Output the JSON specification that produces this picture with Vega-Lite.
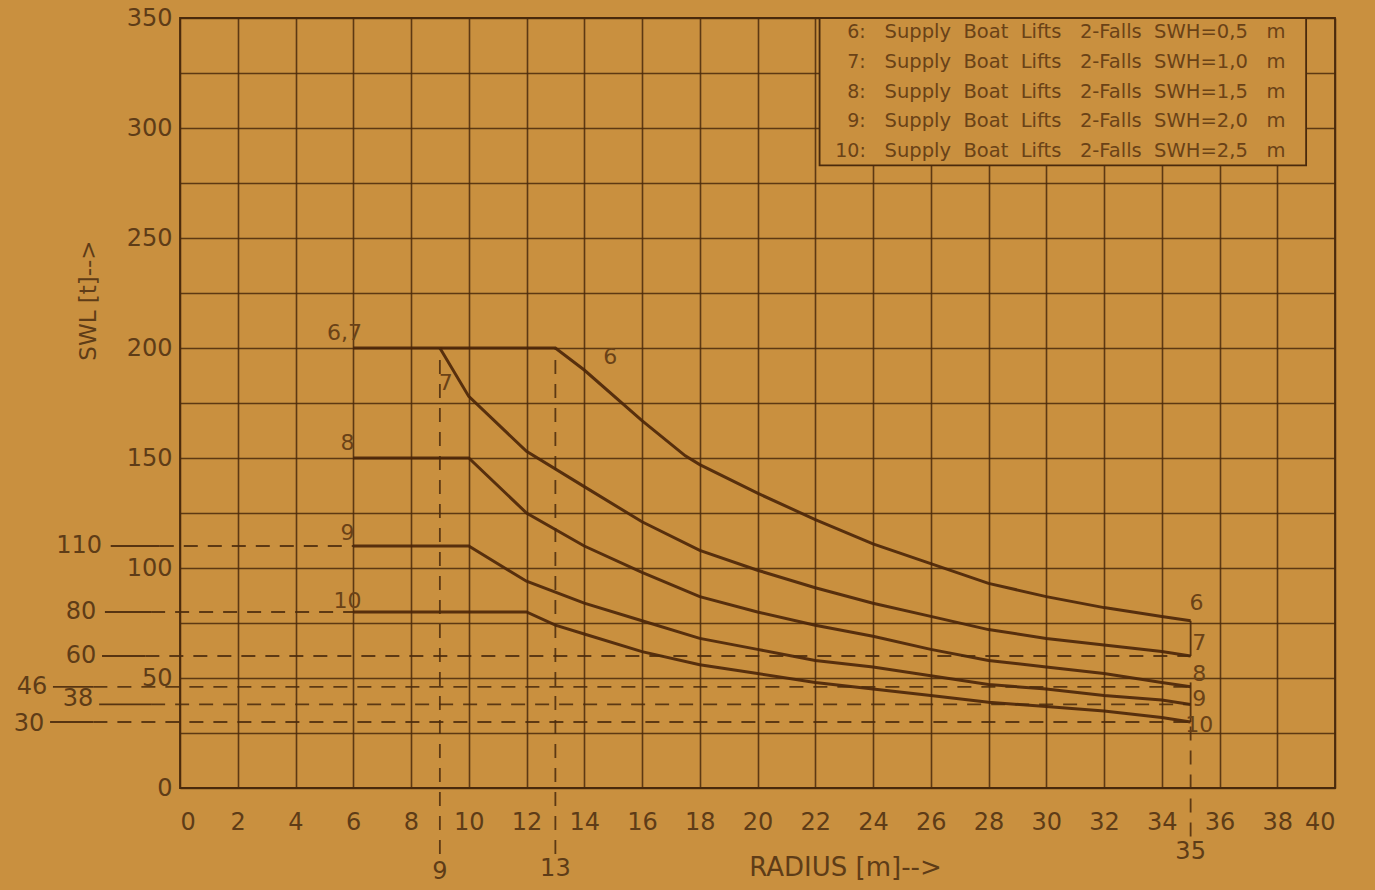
{
  "$schema": "https://vega.github.io/schema/vega-lite/v6.json",
  "width": 1155,
  "height": 770,
  "autosize": {"type": "none"},
  "padding": {"left": 180, "top": 18, "right": 40, "bottom": 102},
  "background": "#c9903f",
  "config": {
    "view": {"stroke": "#4a2a0c", "strokeWidth": 1.8},
    "font": "DejaVu Sans",
    "axis": {
      "domain": false,
      "ticks": false,
      "grid": true,
      "gridColor": "#4a2a0c",
      "gridWidth": 1.6,
      "gridOpacity": 0.85,
      "labelColor": "#5e3c17",
      "labelFontSize": 24,
      "labelFont": "DejaVu Sans",
      "titleColor": "#5e3c17",
      "titleFont": "DejaVu Sans",
      "titleFontWeight": "normal"
    }
  },
  "datasets": {
    "curves": [
      {"c": "6", "r": 6, "swl": 200}, {"c": "6", "r": 13, "swl": 200}, {"c": "6", "r": 14, "swl": 190}, {"c": "6", "r": 16, "swl": 167}, {"c": "6", "r": 17.5, "swl": 151}, {"c": "6", "r": 18, "swl": 147}, {"c": "6", "r": 20, "swl": 134}, {"c": "6", "r": 22, "swl": 122}, {"c": "6", "r": 24, "swl": 111}, {"c": "6", "r": 26, "swl": 102}, {"c": "6", "r": 28, "swl": 93}, {"c": "6", "r": 30, "swl": 87}, {"c": "6", "r": 32, "swl": 82}, {"c": "6", "r": 34, "swl": 78}, {"c": "6", "r": 35, "swl": 76},
      {"c": "7", "r": 9, "swl": 200}, {"c": "7", "r": 10, "swl": 178}, {"c": "7", "r": 12, "swl": 153}, {"c": "7", "r": 14, "swl": 137}, {"c": "7", "r": 16, "swl": 121}, {"c": "7", "r": 18, "swl": 108}, {"c": "7", "r": 20, "swl": 99}, {"c": "7", "r": 22, "swl": 91}, {"c": "7", "r": 24, "swl": 84}, {"c": "7", "r": 26, "swl": 78}, {"c": "7", "r": 28, "swl": 72}, {"c": "7", "r": 30, "swl": 68}, {"c": "7", "r": 32, "swl": 65}, {"c": "7", "r": 34, "swl": 62}, {"c": "7", "r": 35, "swl": 60},
      {"c": "8", "r": 6, "swl": 150}, {"c": "8", "r": 10, "swl": 150}, {"c": "8", "r": 12, "swl": 125}, {"c": "8", "r": 14, "swl": 110}, {"c": "8", "r": 16, "swl": 98}, {"c": "8", "r": 18, "swl": 87}, {"c": "8", "r": 20, "swl": 80}, {"c": "8", "r": 22, "swl": 74}, {"c": "8", "r": 24, "swl": 69}, {"c": "8", "r": 26, "swl": 63}, {"c": "8", "r": 28, "swl": 58}, {"c": "8", "r": 30, "swl": 55}, {"c": "8", "r": 32, "swl": 52}, {"c": "8", "r": 34, "swl": 48}, {"c": "8", "r": 35, "swl": 46},
      {"c": "9", "r": 6, "swl": 110}, {"c": "9", "r": 10, "swl": 110}, {"c": "9", "r": 12, "swl": 94}, {"c": "9", "r": 14, "swl": 84}, {"c": "9", "r": 16, "swl": 76}, {"c": "9", "r": 18, "swl": 68}, {"c": "9", "r": 20, "swl": 63}, {"c": "9", "r": 22, "swl": 58}, {"c": "9", "r": 24, "swl": 55}, {"c": "9", "r": 26, "swl": 51}, {"c": "9", "r": 28, "swl": 47}, {"c": "9", "r": 30, "swl": 45}, {"c": "9", "r": 32, "swl": 42}, {"c": "9", "r": 34, "swl": 40}, {"c": "9", "r": 35, "swl": 38},
      {"c": "10", "r": 6, "swl": 80}, {"c": "10", "r": 12, "swl": 80}, {"c": "10", "r": 13, "swl": 74}, {"c": "10", "r": 14, "swl": 70}, {"c": "10", "r": 16, "swl": 62}, {"c": "10", "r": 18, "swl": 56}, {"c": "10", "r": 20, "swl": 52}, {"c": "10", "r": 22, "swl": 48}, {"c": "10", "r": 24, "swl": 45}, {"c": "10", "r": 26, "swl": 42}, {"c": "10", "r": 28, "swl": 39}, {"c": "10", "r": 30, "swl": 37}, {"c": "10", "r": 32, "swl": 35}, {"c": "10", "r": 34, "swl": 32}, {"c": "10", "r": 35, "swl": 30}
    ],
    "dashed": [
      {"x": -0.7, "x2": 6, "y": 110, "y2": 110},
      {"x": -1.0, "x2": 6, "y": 80, "y2": 80},
      {"x": -1.2, "x2": 35, "y": 60, "y2": 60},
      {"x": -3.0, "x2": 35, "y": 46, "y2": 46},
      {"x": -1.0, "x2": 35, "y": 38, "y2": 38},
      {"x": -3.0, "x2": 35, "y": 30, "y2": 30},
      {"x": 9, "x2": 9, "y": -30, "y2": 200},
      {"x": 13, "x2": 13, "y": -30, "y2": 200},
      {"x": 35, "x2": 35, "y": -22, "y2": 30}
    ],
    "solid": [
      {"x": -2.4, "x2": -0.7, "y": 110, "y2": 110},
      {"x": -2.6, "x2": -1.0, "y": 80, "y2": 80},
      {"x": -2.7, "x2": -1.2, "y": 60, "y2": 60},
      {"x": -4.4, "x2": -3.0, "y": 46, "y2": 46},
      {"x": -2.8, "x2": -1.0, "y": 38, "y2": 38},
      {"x": -4.5, "x2": -3.0, "y": 30, "y2": 30},
      {"x": 35, "x2": 35, "y": 60, "y2": 76},
      {"x": 35, "x2": 35, "y": 30, "y2": 48}
    ],
    "sidelabels": [
      {"x": -2.7, "y": 110, "t": "110"},
      {"x": -2.9, "y": 80, "t": "80"},
      {"x": -2.9, "y": 60, "t": "60"},
      {"x": -4.6, "y": 46, "t": "46"},
      {"x": -3.0, "y": 40.5, "t": "38"},
      {"x": -4.7, "y": 29, "t": "30"}
    ],
    "bottomlabels": [
      {"x": 9, "y": -38, "t": "9"},
      {"x": 13, "y": -37, "t": "13"},
      {"x": 35, "y": -29, "t": "35"}
    ],
    "curvelabels": [
      {"x": 5.7, "y": 207, "t": "6,7", "a": "right"},
      {"x": 5.8, "y": 157, "t": "8", "a": "right"},
      {"x": 5.8, "y": 116, "t": "9", "a": "right"},
      {"x": 5.8, "y": 85, "t": "10", "a": "right"},
      {"x": 9.2, "y": 184, "t": "7", "a": "left"},
      {"x": 14.9, "y": 196, "t": "6", "a": "left"},
      {"x": 35.2, "y": 84, "t": "6", "a": "left"},
      {"x": 35.3, "y": 66, "t": "7", "a": "left"},
      {"x": 35.3, "y": 52, "t": "8", "a": "left"},
      {"x": 35.3, "y": 40.5, "t": "9", "a": "left"},
      {"x": 35.3, "y": 28.5, "t": "10", "a": "left"}
    ],
    "legendbox": [{"x": 22.15, "x2": 39.0, "y": 283, "y2": 350}],
    "legend": [
      {"n": "6:", "t": "Supply\u00a0\u00a0Boat\u00a0\u00a0Lifts\u00a0\u00a0\u00a02-Falls\u00a0\u00a0SWH=0,5\u00a0\u00a0\u00a0m", "y": 343.5},
      {"n": "7:", "t": "Supply\u00a0\u00a0Boat\u00a0\u00a0Lifts\u00a0\u00a0\u00a02-Falls\u00a0\u00a0SWH=1,0\u00a0\u00a0\u00a0m", "y": 330},
      {"n": "8:", "t": "Supply\u00a0\u00a0Boat\u00a0\u00a0Lifts\u00a0\u00a0\u00a02-Falls\u00a0\u00a0SWH=1,5\u00a0\u00a0\u00a0m", "y": 316.5},
      {"n": "9:", "t": "Supply\u00a0\u00a0Boat\u00a0\u00a0Lifts\u00a0\u00a0\u00a02-Falls\u00a0\u00a0SWH=2,0\u00a0\u00a0\u00a0m", "y": 303},
      {"n": "10:", "t": "Supply\u00a0\u00a0Boat\u00a0\u00a0Lifts\u00a0\u00a0\u00a02-Falls\u00a0\u00a0SWH=2,5\u00a0\u00a0\u00a0m", "y": 289.5}
    ]
  },
  "encoding": {},
  "layer": [
    {
      "data": {"name": "curves"},
      "mark": {"type": "line", "color": "#4a2508", "strokeWidth": 3, "opacity": 0.9},
      "encoding": {
        "x": {
          "field": "r", "type": "quantitative",
          "scale": {"domain": [0, 40], "nice": false, "zero": false},
          "axis": {
            "values": [0, 2, 4, 6, 8, 10, 12, 14, 16, 18, 20, 22, 24, 26, 28, 30, 32, 34, 36, 38, 40],
            "labelPadding": 22,
            "title": "RADIUS [m]-->",
            "titleFontSize": 26,
            "titlePadding": 20,
            "titleX": 665
          }
        },
        "y": {
          "field": "swl", "type": "quantitative",
          "scale": {"domain": [0, 350], "nice": false},
          "axis": {
            "values": [0, 25, 50, 75, 100, 125, 150, 175, 200, 225, 250, 275, 300, 325, 350],
            "labelExpr": "datum.value % 50 == 0 ? datum.label : ''",
            "labelPadding": 8,
            "title": "SWL [t]-->",
            "titleFontSize": 23,
            "titleX": -80,
            "titleY": 282
          }
        },
        "detail": {"field": "c", "type": "nominal"}
      }
    },
    {
      "data": {"name": "dashed"},
      "mark": {"type": "rule", "color": "#4a2a0c", "strokeWidth": 1.8, "strokeDash": [14, 10], "opacity": 0.85},
      "encoding": {
        "x": {"field": "x", "type": "quantitative"},
        "x2": {"field": "x2"},
        "y": {"field": "y", "type": "quantitative"},
        "y2": {"field": "y2"}
      }
    },
    {
      "data": {"name": "solid"},
      "mark": {"type": "rule", "color": "#4a2a0c", "strokeWidth": 1.8, "opacity": 0.9},
      "encoding": {
        "x": {"field": "x", "type": "quantitative"},
        "x2": {"field": "x2"},
        "y": {"field": "y", "type": "quantitative"},
        "y2": {"field": "y2"}
      }
    },
    {
      "data": {"name": "sidelabels"},
      "mark": {"type": "text", "align": "right", "baseline": "middle", "fontSize": 24, "color": "#5e3c17"},
      "encoding": {
        "x": {"field": "x", "type": "quantitative"},
        "y": {"field": "y", "type": "quantitative"},
        "text": {"field": "t"}
      }
    },
    {
      "data": {"name": "bottomlabels"},
      "mark": {"type": "text", "align": "center", "baseline": "middle", "fontSize": 24, "color": "#5e3c17"},
      "encoding": {
        "x": {"field": "x", "type": "quantitative"},
        "y": {"field": "y", "type": "quantitative"},
        "text": {"field": "t"}
      }
    },
    {
      "data": {"name": "curvelabels"},
      "mark": {"type": "text", "baseline": "middle", "fontSize": 22, "color": "#6a4217"},
      "encoding": {
        "x": {"field": "x", "type": "quantitative"},
        "y": {"field": "y", "type": "quantitative"},
        "text": {"field": "t"},
        "align": {"field": "a", "type": "nominal", "scale": null}
      }
    },
    {
      "data": {"name": "legendbox"},
      "mark": {"type": "rect", "fill": "#c9903f", "stroke": "#4a2a0c", "strokeWidth": 1.8},
      "encoding": {
        "x": {"field": "x", "type": "quantitative"},
        "x2": {"field": "x2"},
        "y": {"field": "y", "type": "quantitative"},
        "y2": {"field": "y2"}
      }
    },
    {
      "data": {"name": "legend"},
      "mark": {"type": "text", "align": "right", "baseline": "middle", "fontSize": 19, "color": "#6a4217"},
      "encoding": {
        "x": {"datum": 23.75, "type": "quantitative"},
        "y": {"field": "y", "type": "quantitative"},
        "text": {"field": "n"}
      }
    },
    {
      "data": {"name": "legend"},
      "mark": {"type": "text", "align": "left", "baseline": "middle", "fontSize": 19.5, "color": "#6a4217"},
      "encoding": {
        "x": {"datum": 24.4, "type": "quantitative"},
        "y": {"field": "y", "type": "quantitative"},
        "text": {"field": "t"}
      }
    }
  ]
}
